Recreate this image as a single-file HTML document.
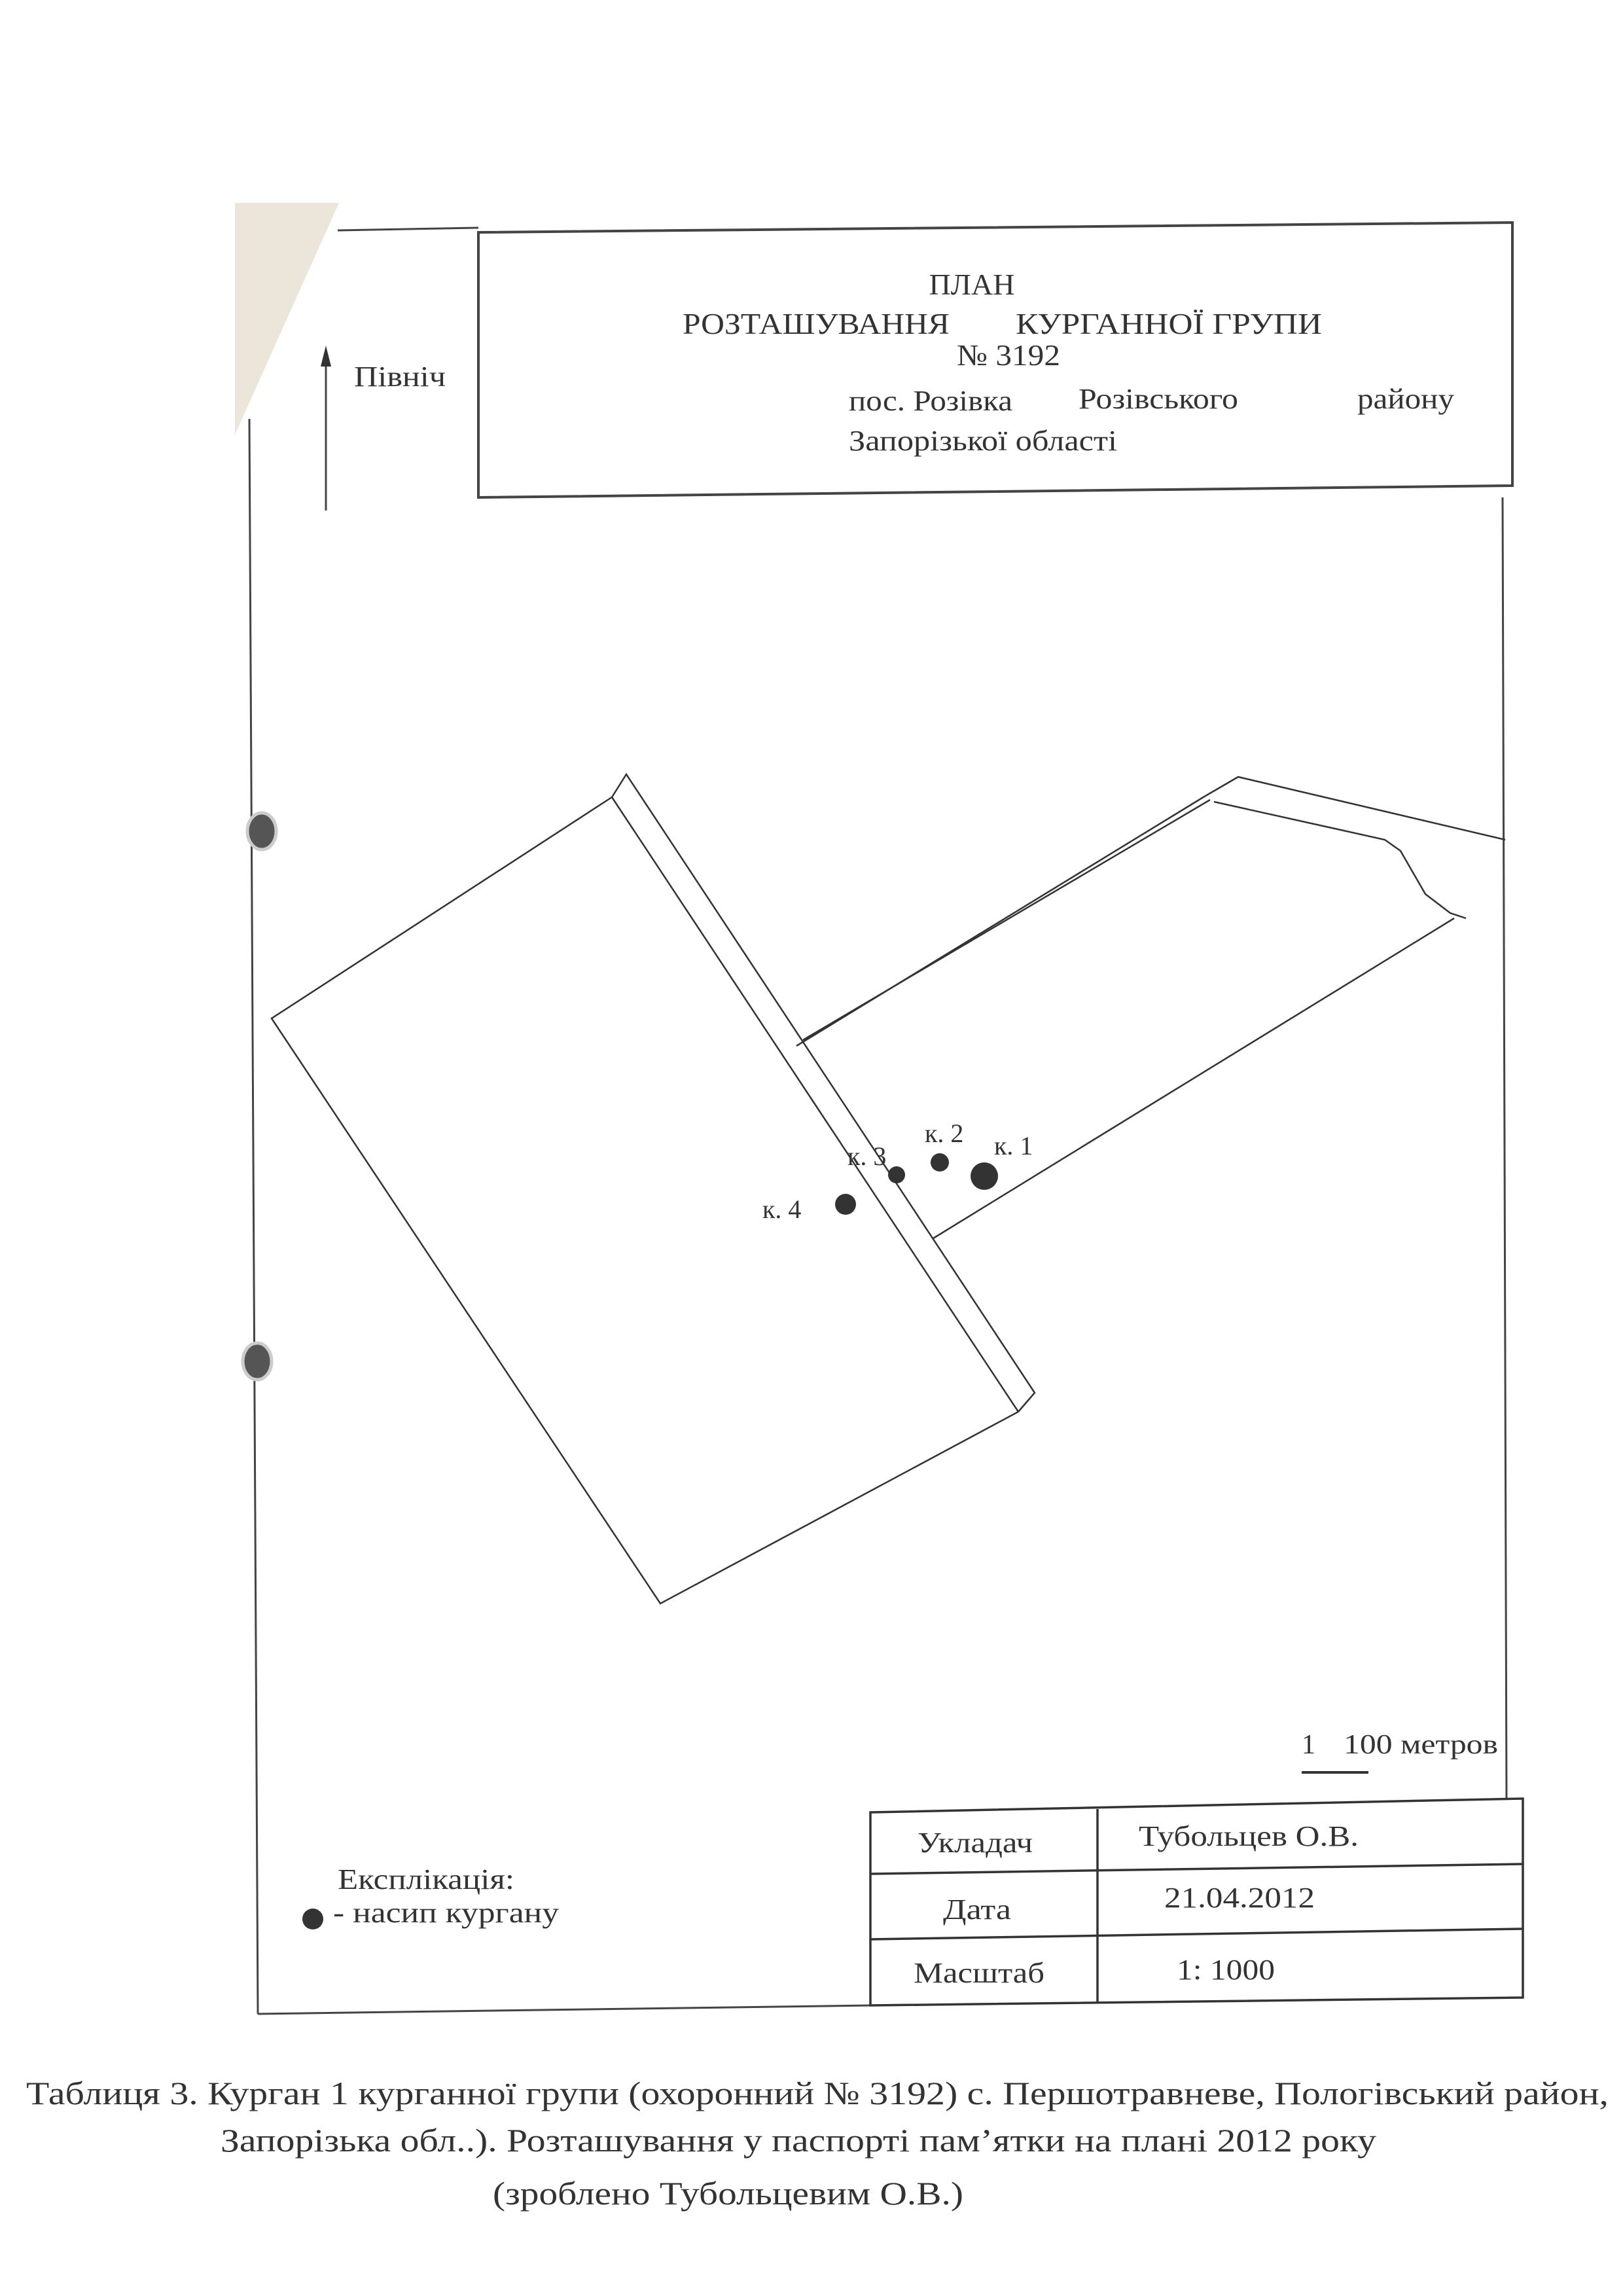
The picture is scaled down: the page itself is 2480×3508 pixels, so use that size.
<!DOCTYPE html>
<html><head><meta charset="utf-8"><style>
html,body{margin:0;padding:0;background:#fff}
svg{display:block}
text{font-family:"Liberation Serif",serif;fill:#333}
</style></head><body>
<svg width="2480" height="3508" viewBox="0 0 2480 3508" xmlns="http://www.w3.org/2000/svg">
<rect width="2480" height="3508" fill="#fff"/>
<polygon points="359,310 518,310 359,664" fill="#ebe5da"/>
<!-- outer frame -->
<g stroke="#444" fill="none" stroke-width="3">
<line x1="381" y1="640" x2="394" y2="3077"/>
<polyline points="516,352 731,348"/>
<line x1="394" y1="3077" x2="1330" y2="3064"/>
<line x1="2296" y1="760" x2="2302" y2="2748"/>
<!-- title box -->
<polygon points="731,355 2311,340 2311,742 731,760" stroke-width="4"/>
<!-- north arrow -->
<line x1="498" y1="540" x2="498" y2="780"/>
</g>
<polygon points="498,528 490,560 506,560" fill="#333"/>
<text x="1485" y="450" font-size="46" text-anchor="middle">ПЛАН</text>
<text x="1043" y="510" font-size="46" textLength="408" lengthAdjust="spacingAndGlyphs">РОЗТАШУВАННЯ</text>
<text x="1552" y="510" font-size="46" textLength="468" lengthAdjust="spacingAndGlyphs">КУРГАННОЇ ГРУПИ</text>
<text x="1462" y="558" font-size="46" textLength="158" lengthAdjust="spacingAndGlyphs">№ 3192</text>
<text x="1297" y="627" font-size="44" textLength="250" lengthAdjust="spacingAndGlyphs">пос. Розівка</text>
<text x="1648" y="624" font-size="44" textLength="244" lengthAdjust="spacingAndGlyphs">Розівського</text>
<text x="2074" y="624" font-size="44" textLength="148" lengthAdjust="spacingAndGlyphs">району</text>
<text x="1297" y="688" font-size="44" textLength="410" lengthAdjust="spacingAndGlyphs">Запорізької області</text>
<text x="541" y="590" font-size="44" textLength="140" lengthAdjust="spacingAndGlyphs">Північ</text>
<!-- binder holes -->
<ellipse cx="400" cy="1270" rx="22" ry="28" fill="#555" stroke="#ccc" stroke-width="5"/>
<ellipse cx="393" cy="2080" rx="22" ry="28" fill="#555" stroke="#ccc" stroke-width="5"/>
<!-- map -->
<g stroke="#333" fill="none" stroke-width="2.5">
<polyline points="935,1218 415,1556 1009,2450 1556,2157"/>
<line x1="935" y1="1218" x2="1556" y2="2157"/>
<polyline points="935,1218 957,1183 1581,2128 1562,2150 1556,2157"/>
<line x1="1217" y1="1598" x2="1842" y2="1216"/>
<line x1="1227" y1="1589" x2="1849" y2="1222"/>
<polyline points="1842,1216 1892,1187 2300,1283"/>
<polyline points="1855,1225 2116,1283 2140,1300 2178,1366 2216,1395 2240,1403"/>
<line x1="2222" y1="1403" x2="1426" y2="1892"/>
</g>
<circle cx="1504" cy="1797" r="21" fill="#333"/>
<circle cx="1436" cy="1776" r="14" fill="#333"/>
<circle cx="1370" cy="1795" r="13" fill="#333"/>
<circle cx="1292" cy="1840" r="16" fill="#333"/>
<text x="1519" y="1764" font-size="40">к. 1</text>
<text x="1413" y="1745" font-size="40">к. 2</text>
<text x="1295" y="1780" font-size="40">к. 3</text>
<text x="1165" y="1861" font-size="40">к. 4</text>
<!-- scale -->
<text x="1989" y="2679" font-size="42">1</text>
<text x="2053" y="2679" font-size="42" textLength="236" lengthAdjust="spacingAndGlyphs">100 метров</text>
<line x1="1989" y1="2708" x2="2091" y2="2708" stroke="#333" stroke-width="4"/>
<!-- table -->
<g stroke="#333" fill="none" stroke-width="3.5">
<polygon points="1330,2769 2327,2748 2327,3052 1330,3064"/>
<line x1="1677" y1="2764" x2="1677" y2="3060"/>
<line x1="1330" y1="2863" x2="2327" y2="2848"/>
<line x1="1330" y1="2963" x2="2327" y2="2947"/>
</g>
<text x="1402" y="2830" font-size="44" textLength="176" lengthAdjust="spacingAndGlyphs">Укладач</text>
<text x="1740" y="2820" font-size="44" textLength="336" lengthAdjust="spacingAndGlyphs">Тубольцев О.В.</text>
<text x="1441" y="2932" font-size="44" textLength="104" lengthAdjust="spacingAndGlyphs">Дата</text>
<text x="1779" y="2914" font-size="44" textLength="230" lengthAdjust="spacingAndGlyphs">21.04.2012</text>
<text x="1396" y="3029" font-size="44" textLength="200" lengthAdjust="spacingAndGlyphs">Масштаб</text>
<text x="1798" y="3024" font-size="44" textLength="150" lengthAdjust="spacingAndGlyphs">1: 1000</text>
<!-- legend -->
<text x="516" y="2886" font-size="44" textLength="270" lengthAdjust="spacingAndGlyphs">Експлікація:</text>
<circle cx="478" cy="2932" r="16" fill="#333"/>
<text x="509" y="2937" font-size="44" textLength="345" lengthAdjust="spacingAndGlyphs">- насип кургану</text>
<!-- caption -->
<text x="40" y="3215" font-size="50" fill="#000" textLength="2418" lengthAdjust="spacingAndGlyphs">Таблиця 3. Курган 1 курганної групи (охоронний  № 3192) с. Першотравневе, Пологівський район,</text>
<text x="337" y="3287" font-size="50" fill="#000" textLength="1766" lengthAdjust="spacingAndGlyphs">Запорізька обл..). Розташування у паспорті пам’ятки на плані 2012 року</text>
<text x="753" y="3368" font-size="50" fill="#000" textLength="719" lengthAdjust="spacingAndGlyphs">(зроблено Тубольцевим О.В.)</text>
</svg>
</body></html>
